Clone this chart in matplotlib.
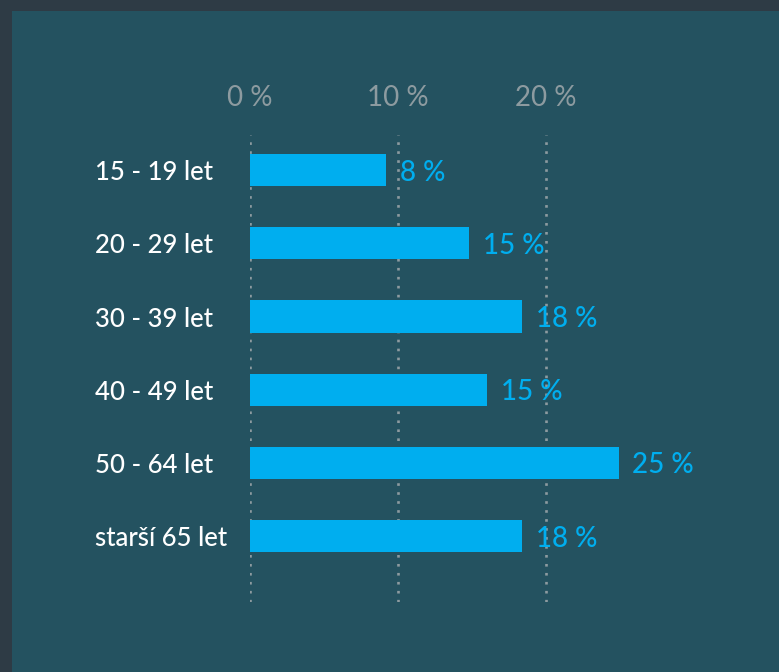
import matplotlib.pyplot as plt
from matplotlib.patches import Rectangle

# Data
categories = ["15 - 19 let", "20 - 29 let", "30 - 39 let", "40 - 49 let", "50 - 64 let", "starší 65 let"]
values = [9.2, 14.8, 18.4, 16.0, 24.9, 18.4]
value_labels = ["8 %", "15 %", "18 %", "15 %", "25 %", "18 %"]
ticks = [0, 10, 20]
tick_labels = ["0 %", "10 %", "20 %"]

border_color = "#2e3b45"
panel_color = "#245260"
bar_color = "#00aeef"
grid_color = "#8d9ba0"

plt.rcParams['font.family'] = ['Lato', 'DejaVu Sans']

fig = plt.figure(figsize=(7.79, 6.72), dpi=100)
fig.patch.set_facecolor(border_color)
fig.patches.append(Rectangle((12 / 779, 0), 1, (672 - 11) / 672,
                             transform=fig.transFigure, facecolor=panel_color,
                             edgecolor='none', zorder=-10))

ax = fig.add_axes([250 / 779, 70 / 672, 444 / 779, 467 / 672])
ax.set_facecolor('none')

y = list(range(len(categories)))
ax.barh(y, values, height=0.44, color=bar_color, zorder=3)

for yi, v, lab in zip(y, values, value_labels):
    ax.annotate(lab, (v, yi), xytext=(10, 0), textcoords='offset points',
                va='center_baseline', ha='left', color=bar_color, fontsize=20,
                fontweight='medium', zorder=4)

ax.set_xlim(0, 30)
ax.set_ylim(5.9, -0.48)

for t in ticks:
    ax.axvline(t, color=grid_color, linestyle=(0, (1, 2.4)), linewidth=1.9, zorder=1)

ax.set_xticks(ticks)
ax.set_xticklabels(tick_labels)
ax.xaxis.tick_top()
ax.tick_params(axis='x', length=0, pad=17, labelsize=20, labelcolor=grid_color)

ax.set_yticks(y)
ax.set_yticklabels(categories)
ax.tick_params(axis='y', length=0, pad=111.6, labelsize=18.5, labelcolor='white')
for lbl in ax.get_yticklabels():
    lbl.set_ha('left')
    lbl.set_fontweight('medium')

for s in ax.spines.values():
    s.set_visible(False)

fig.savefig("out.png", dpi=100, facecolor=fig.get_facecolor())
